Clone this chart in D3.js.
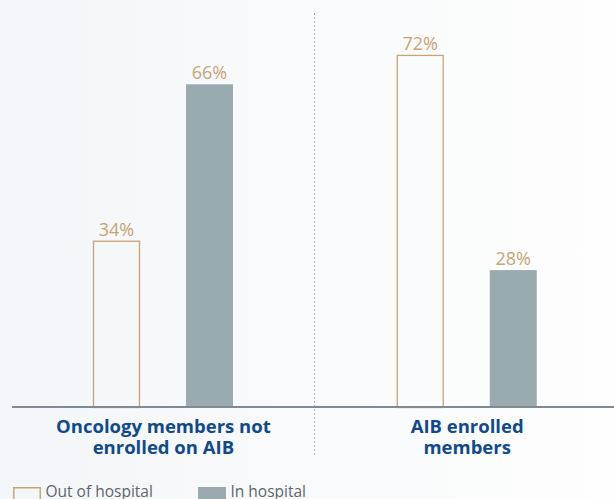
<!DOCTYPE html>
<html><head><meta charset="utf-8">
<script src="https://cdn.jsdelivr.net/npm/d3@7"></script>
<style>
html,body{margin:0;padding:0;overflow:hidden;background:#fff;}
svg{display:block;}
</style></head>
<body>
<svg id="chart" width="614" height="499"></svg>
<script>
const categories = ["Oncology members not enrolled on AIB", "AIB enrolled members"];
const categoryLines = [["Oncology members not", "enrolled on AIB"], ["AIB enrolled", "members"]];
const seriesNames = ["Out of hospital", "In hospital"];
const outOfHospital = [34, 72];
const inHospital = [66, 28];
const valueLabels = [["34%", "66%"], ["72%", "28%"]];

const W = 614, H = 499;
const svg = d3.select("#chart");
const defs = svg.append("defs");
const grad = defs.append("linearGradient").attr("id", "bg").attr("x1", 0).attr("x2", 1).attr("y1", 0).attr("y2", 0);
grad.append("stop").attr("offset", 0).attr("stop-color", "#f3f6f8");
grad.append("stop").attr("offset", 1).attr("stop-color", "#fefefe");
svg.append("rect").attr("width", W).attr("height", H).attr("fill", "url(#bg)");

const outlineColor = "#c8a475";
const fillColor = "#9aabb0";
const labelBlue = "#114a8b";

const x0 = d3.scaleBand().domain(categories).range([11.5, 619]).padding(0);
const x1 = d3.scaleBand().domain(seriesNames).range([81.5, 221.5]).paddingInner(0.495).paddingOuter(0);
const y = d3.scaleLinear().domain([0, 100]).range([407, -82]);

const rows = categories.map((c, i) => ({
  cat: c, i,
  vals: [
    {s: seriesNames[0], v: outOfHospital[i], label: valueLabels[i][0]},
    {s: seriesNames[1], v: inHospital[i], label: valueLabels[i][1]}
  ]
}));

// dotted separator between groups
const sepX = Math.round(x0(categories[1])) - 0.5;
svg.append("line")
  .attr("x1", sepX).attr("x2", sepX)
  .attr("y1", 13).attr("y2", 455)
  .attr("stroke", "#a9b0b6").attr("stroke-width", 1).attr("stroke-dasharray", "2,2");

const g = svg.selectAll("g.grp").data(rows).enter().append("g")
  .attr("class", "grp")
  .attr("transform", d => `translate(${x0(d.cat)},0)`);

g.selectAll("rect.bar").data(d => d.vals).enter().append("rect")
  .attr("class", "bar")
  .attr("x", d => x1(d.s) + (d.s === seriesNames[0] ? 0.5 : 0))
  .attr("width", d => x1.bandwidth() - (d.s === seriesNames[0] ? 1 : 0))
  .attr("y", d => y(d.v) + (d.s === seriesNames[0] ? 0.5 : 0))
  .attr("height", d => y(0) - y(d.v))
  .attr("fill", d => d.s === seriesNames[0] ? "none" : fillColor)
  .attr("stroke", d => d.s === seriesNames[0] ? outlineColor : "none")
  .attr("stroke-width", 1.3);

g.selectAll("text.val").data(d => d.vals).enter().append("text")
  .attr("class", "val")
  .attr("x", d => x1(d.s) + x1.bandwidth() / 2)
  .attr("y", d => y(d.v) - 5)
  .attr("text-anchor", "middle")
  .attr("font-family", "Open Sans")
  .attr("font-size", 18)
  .attr("fill", outlineColor)
  .text(d => d.label);

// baseline axis
svg.append("line")
  .attr("x1", 12).attr("x2", W).attr("y1", y(0)).attr("y2", y(0))
  .attr("stroke", "#7f8a92").attr("stroke-width", 2);

// category labels
g.each(function(d) {
  const t = d3.select(this).append("text")
    .attr("text-anchor", "middle")
    .attr("font-family", "Open Sans")
    .attr("font-weight", "bold")
    .attr("font-size", 18.5)
    .attr("fill", labelBlue);
  categoryLines[d.i].forEach((line, k) => {
    t.append("tspan").attr("x", x0.bandwidth() / 2).attr("y", 432.5 + k * 21.5).text(line);
  });
});

// legend
const legend = svg.append("g");
const lx = [13, 198];
seriesNames.forEach((s, i) => {
  legend.append("rect")
    .attr("x", lx[i] + (i === 0 ? 0.75 : 0)).attr("y", 487 + (i === 0 ? 0.75 : 0))
    .attr("width", 28 - (i === 0 ? 1.5 : 0)).attr("height", 13)
    .attr("fill", i === 0 ? "none" : fillColor)
    .attr("stroke", i === 0 ? outlineColor : "none")
    .attr("stroke-width", 1.5);
  legend.append("text")
    .attr("x", lx[i] + 32.5).attr("y", 496.5)
    .attr("font-family", "Open Sans")
    .attr("font-size", 15.5)
    .attr("fill", "#5f656b")
    .text(s);
});
</script>
</body></html>
